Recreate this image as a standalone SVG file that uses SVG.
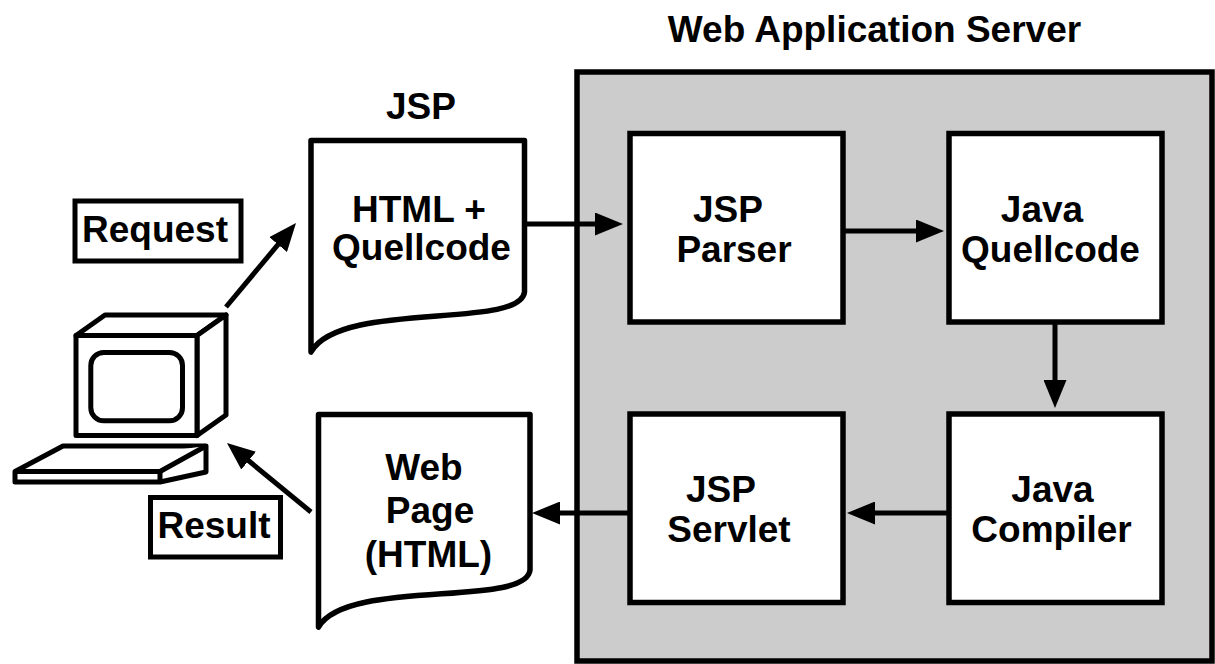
<svg xmlns="http://www.w3.org/2000/svg" width="1215" height="664" viewBox="0 0 1215 664">
<style>
  .t { font-family: "Liberation Sans", Arial, Helvetica, sans-serif; font-weight: bold; font-size: 37px; fill: #000; text-anchor: middle; }
  .box { fill: #fff; stroke: #000; stroke-width: 5.5; }
  .doc { fill: #fff; stroke: #000; stroke-width: 5.5; stroke-linejoin: round; stroke-linecap: round; }
  .pc { fill: #fff; stroke: #000; stroke-width: 5; stroke-linejoin: round; }
  .lbl { fill: #fff; stroke: #000; stroke-width: 5; }
  .conn { stroke: #000; stroke-width: 5; fill: none; marker-end: url(#ah); }
</style>
<defs>
  <marker id="ah" markerUnits="userSpaceOnUse" viewBox="0 0 28 23" markerWidth="28" markerHeight="23" refX="18" refY="11.5" orient="auto">
    <path d="M0,0 L28,11.5 L0,23 Z" fill="#000"/>
  </marker>
</defs>
<rect width="1215" height="664" fill="#fff"/>

<g id="server">
  <rect x="577" y="72" width="635" height="589" fill="#cccccc" stroke="#000" stroke-width="5.5"/>
  <text class="t" x="874.5" y="42" font-size="37.5">Web Application Server</text>
</g>

<g id="computer">
  <polygon class="pc" points="76,335.5 105,315 226,315 197,335.5"/>
  <polygon class="pc" points="197,335.5 226,315 226,415 197,435.5"/>
  <rect class="pc" x="76" y="335.5" width="121" height="100"/>
  <rect class="pc" x="90.8" y="352.5" width="91.7" height="68.3" rx="13"/>
  <polygon class="pc" points="63,446 206,446 206,472 160,482 15,482 15,471.5"/>
  <polyline class="pc" points="15,471.5 160,471.5 206,446" fill="none"/>
  <line x1="160" y1="471.5" x2="160" y2="482" stroke="#000" stroke-width="5"/>
</g>

<g id="request">
  <rect class="lbl" x="75" y="201" width="166" height="60"/>
  <text class="t" x="155" y="242">Request</text>
</g>

<g id="result">
  <rect class="lbl" x="150.5" y="497.5" width="130" height="59.5"/>
  <text class="t" x="214" y="538">Result</text>
</g>

<g id="jsp-doc">
  <text class="t" x="421" y="119">JSP</text>
  <path class="doc" d="M311,352 L311,140.5 L524.5,140.5 L524.5,292 C520,330 340,300 311,352 Z"/>
  <text class="t" x="419" y="222">HTML +</text>
  <text class="t" x="421.5" y="260">Quellcode</text>
</g>

<g id="web-page">
  <path class="doc" d="M318.5,627 L318.5,414.5 L530,414.5 L530,570 C526,608 347,578 318.5,627 Z"/>
  <text class="t" x="424" y="480">Web</text>
  <text class="t" x="430" y="523">Page</text>
  <text class="t" x="428.5" y="567">(HTML)</text>
</g>

<g id="jsp-parser">
  <rect class="box" x="630" y="133.5" width="213" height="188.5"/>
  <text class="t" x="728" y="222">JSP</text>
  <text class="t" x="734" y="262">Parser</text>
</g>

<g id="java-quellcode">
  <rect class="box" x="949" y="133.5" width="213" height="188.5"/>
  <text class="t" x="1042" y="222">Java</text>
  <text class="t" x="1050.5" y="262">Quellcode</text>
</g>

<g id="jsp-servlet">
  <rect class="box" x="630" y="414" width="213" height="188.5"/>
  <text class="t" x="721" y="502">JSP</text>
  <text class="t" x="729" y="542">Servlet</text>
</g>

<g id="java-compiler">
  <rect class="box" x="949" y="414" width="213" height="188.5"/>
  <text class="t" x="1052.5" y="502">Java</text>
  <text class="t" x="1051.5" y="542">Compiler</text>
</g>

<g id="connectors">
  <line class="conn" x1="226" y1="307" x2="289.6" y2="230.7"/>
  <line class="conn" x1="311" y1="512" x2="234.7" y2="449.3"/>
  <line class="conn" x1="524.5" y1="224" x2="613" y2="224"/>
  <line class="conn" x1="843" y1="231" x2="934" y2="231"/>
  <line class="conn" x1="1055" y1="322" x2="1055" y2="398"/>
  <line class="conn" x1="949" y1="513" x2="857" y2="513"/>
  <line class="conn" x1="630" y1="513" x2="542" y2="513"/>
</g>
</svg>
